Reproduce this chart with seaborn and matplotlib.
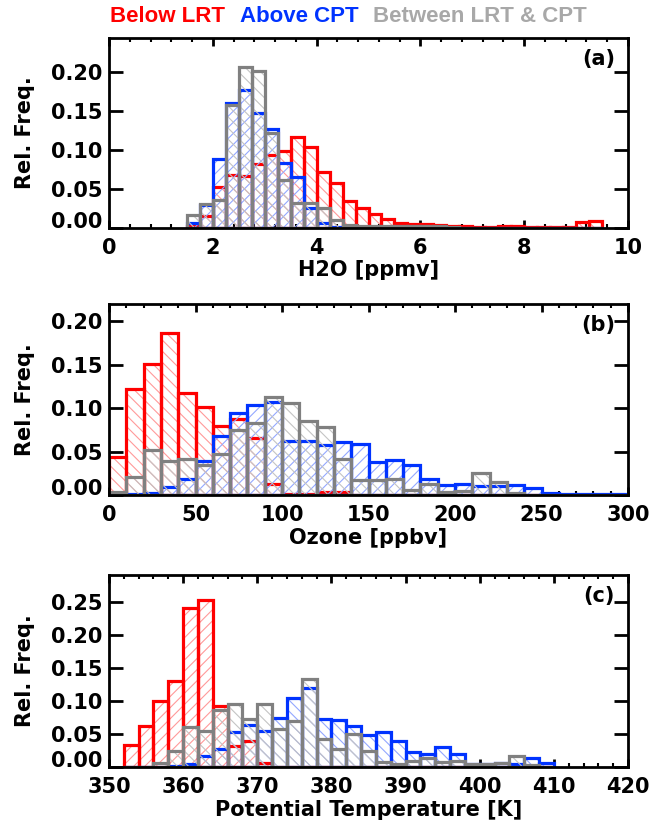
import numpy as np
import pandas as pd
import matplotlib
matplotlib.use('Agg')
import matplotlib.pyplot as plt
import seaborn as sns
from matplotlib.ticker import MultipleLocator, FuncFormatter

# ---- data: relative frequencies ----
# (a) H2O [ppmv], bins of 0.25 starting at 1.5
h2o_start, h2o_width = 1.5, 0.25
h2o_below = [0.003, 0.015, 0.053, 0.068, 0.066, 0.082, 0.094, 0.099, 0.116, 0.103,
             0.071, 0.057, 0.035, 0.025, 0.018, 0.012, 0.007, 0.0056, 0.0047, 0.0038,
             0.003, 0.002, 0.0017, 0.0017, 0.002, 0.003, 0.001, 0.001, 0.001, 0.001,
             0.008, 0.009]
h2o_above = [0.006, 0.029, 0.088, 0.160, 0.176, 0.147, 0.127, 0.083, 0.065, 0.026,
             0.006, 0.001, 0, 0, 0, 0, 0, 0, 0, 0,
             0, 0, 0, 0, 0, 0, 0, 0, 0, 0,
             0, 0]
h2o_between = [0.017, 0.031, 0.036, 0.157, 0.206, 0.201, 0.121, 0.061, 0.032, 0.032,
               0.026, 0.010, 0.004, 0.003, 0.002, 0.002, 0.002, 0.002, 0.002, 0.002,
               0.001, 0, 0, 0, 0, 0, 0, 0, 0, 0,
               0, 0]

# (b) Ozone [ppbv], bins of 10 starting at 0
o3_start, o3_width = 0, 10
o3_below = [0.044, 0.122, 0.151, 0.187, 0.117, 0.101, 0.079, 0.088, 0.066, 0.013,
            0.0015, 0.0015, 0.003, 0.004, 0, 0, 0, 0, 0, 0,
            0, 0, 0, 0, 0, 0, 0, 0, 0, 0]
o3_above = [0, 0.0015, 0.002, 0.009, 0.019, 0.039, 0.068, 0.094, 0.104, 0.107,
            0.062, 0.062, 0.058, 0.061, 0.059, 0.038, 0.040, 0.035, 0.019, 0.011,
            0.013, 0.010, 0.010, 0.011, 0.008, 0.002, 0.001, 0.001, 0.001, 0.001]
o3_between = [0.003, 0.021, 0.052, 0.039, 0.042, 0.034, 0.047, 0.075, 0.083, 0.113,
              0.106, 0.085, 0.078, 0.041, 0.017, 0.017, 0.019, 0.006, 0.013, 0.003,
              0.005, 0.025, 0.015, 0.002, 0, 0, 0, 0, 0, 0]

# (c) Potential temperature [K], bins of 2 starting at 352
th_start, th_width = 352, 2
th_below = [0.034, 0.062, 0.100, 0.131, 0.241, 0.253, 0.093, 0.032, 0.040, 0.006,
            0, 0, 0, 0, 0, 0, 0, 0, 0, 0,
            0, 0, 0, 0, 0, 0, 0, 0, 0]
th_above = [0, 0, 0, 0.002, 0.005, 0.016, 0.028, 0.053, 0.064, 0.055,
            0.075, 0.105, 0.119, 0.072, 0.071, 0.062, 0.048, 0.053, 0.039, 0.023,
            0.020, 0.030, 0.020, 0.005, 0.005, 0.006, 0.005, 0.013, 0.006]
th_between = [0, 0, 0.006, 0.025, 0.061, 0.054, 0.087, 0.095, 0.073, 0.096,
              0.057, 0.070, 0.134, 0.043, 0.027, 0.050, 0.025, 0.008, 0.004, 0.009,
              0.014, 0.008, 0.009, 0.004, 0.005, 0.006, 0.016, 0.003, 0]

series_names = ["Below LRT", "Above CPT", "Between LRT & CPT"]

sns.set_theme(style="ticks")
plt.rcParams['font.family'] = ['DejaVu Sans']
plt.rcParams['font.weight'] = 'bold'
plt.rcParams['axes.labelweight'] = 'bold'
plt.rcParams['hatch.linewidth'] = 0.8
for key in ['text.color', 'axes.labelcolor', 'xtick.color', 'ytick.color',
            'xtick.labelcolor', 'ytick.labelcolor']:
    plt.rcParams[key] = 'black'

RED, BLUE, GRAY = '#FF0000', '#0033FF', '#808080'
LINE = [RED, BLUE, GRAY]
TINT = ['#FF9A9A', '#94A8FF', '#C4C4C4']
FWD, BACK = '///', '\\\\\\'


def draw_hist(ax, start, width, values, line_color, hatch_color, hatch):
    n = len(values)
    df = pd.DataFrame({'x': start + width * (np.arange(n) + 0.5), 'w': values})
    rng = (start, start + width * n)
    # hatched fill in a light tint, then the solid outline on top
    sns.histplot(data=df, x='x', weights='w', binwidth=width, binrange=rng,
                 element="bars", fill=True, facecolor="none", edgecolor=hatch_color,
                 linewidth=0, hatch=hatch, ax=ax)
    sns.histplot(data=df, x='x', weights='w', binwidth=width, binrange=rng,
                 element="bars", fill=False, color=line_color, alpha=1,
                 linewidth=2.3, ax=ax)


def ylab(v, pos):
    # zero label is drawn separately, lifted above the axis like IDL does
    return '' if abs(v) < 1e-9 else f'{v:.2f}'


fig = plt.figure(figsize=(6.54, 8.27), dpi=100)
W, H = 654, 827
panels = [
    # (top px, bottom px), start, width, data, hatches, xlim, ylim, major, minor, xlabel, tag
    ((38, 228), h2o_start, h2o_width, (h2o_below, h2o_above, h2o_between),
     (BACK, FWD, BACK), (0, 10), (0, 0.243), 2, 0.4, 'H2O [ppmv]', '(a)'),
    ((304, 495), o3_start, o3_width, (o3_below, o3_above, o3_between),
     (BACK, FWD, BACK), (0, 300), (0, 0.220), 50, 10, 'Ozone [ppbv]', '(b)'),
    ((575, 767), th_start, th_width, (th_below, th_above, th_between),
     (FWD, BACK, BACK), (350, 420), (0, 0.291), 10, 2, 'Potential Temperature [K]', '(c)'),
]

left, right = 109, 628
for (top, bot), start, width, data, hatches, xlim, ylim, major, minor, xlabel, tag in panels:
    ax = fig.add_axes([left / W, 1 - bot / H, (right - left) / W, (bot - top) / H])
    ax.set_facecolor('white')
    for vals, lc, hc, hatch in zip(data, LINE, TINT, hatches):
        draw_hist(ax, start, width, vals, lc, hc, hatch)
    ax.set_xlim(*xlim)
    ax.set_ylim(*ylim)
    ax.xaxis.set_major_locator(MultipleLocator(major))
    ax.xaxis.set_minor_locator(MultipleLocator(minor))
    ax.yaxis.set_major_locator(MultipleLocator(0.05))
    ax.yaxis.set_major_formatter(FuncFormatter(ylab))
    for sp in ax.spines.values():
        sp.set_linewidth(2)
        sp.set_color('black')
        sp.set_zorder(5)
    ax.tick_params(axis='x', which='major', direction='in', top=True, length=6,
                   width=2, labelsize=15, pad=7, color='black')
    ax.tick_params(axis='x', which='minor', direction='in', top=True, length=3,
                   width=1.5, color='black')
    ax.tick_params(axis='y', which='major', direction='in', right=True, length=10,
                   width=2, labelsize=15, pad=5, color='black')
    ax.text(-7 / (right - left), 0.0, '0.00', transform=ax.transAxes, ha='right',
            va='baseline', fontsize=15, fontweight='bold')
    ax.set_xlabel(xlabel, fontsize=15, fontweight='bold', labelpad=2)
    ax.set_ylabel('Rel. Freq.', fontsize=15, fontweight='bold')
    ax.yaxis.set_label_coords(-0.143, 0.5)
    ax.text(0.975, 0.89, tag, transform=ax.transAxes, ha='right', va='center',
            fontsize=15, fontweight='bold', zorder=6)
    ax.grid(False)

header_x = [110, 240, 373]
header_colors = [RED, BLUE, '#A8A8A8']
for name, hx, hcol in zip(series_names, header_x, header_colors):
    fig.text(hx / W, 1 - 17 / H, name, color=hcol, ha='left', va='center',
             fontsize=16, fontweight='bold', family=['Liberation Sans', 'DejaVu Sans'])

fig.savefig('out.png', dpi=100)
